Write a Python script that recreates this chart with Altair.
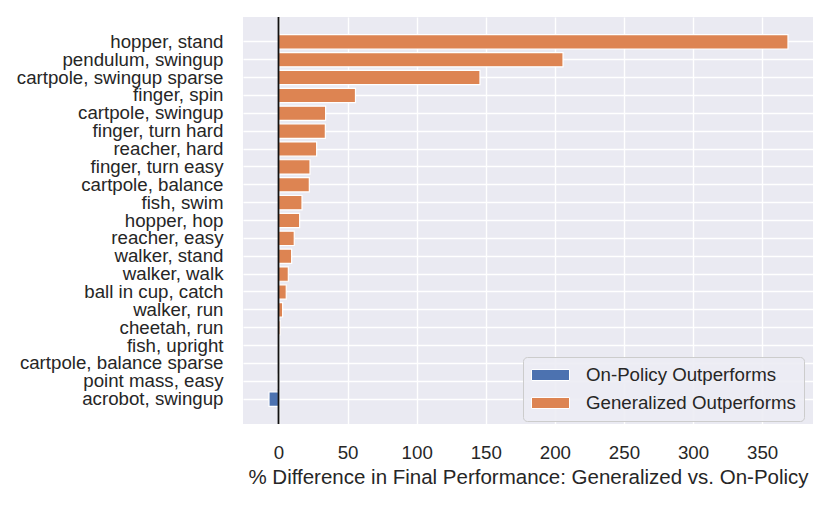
import altair as alt
import pandas as pd

tasks = [
    "hopper, stand", "pendulum, swingup", "cartpole, swingup sparse", "finger, spin",
    "cartpole, swingup", "finger, turn hard", "reacher, hard", "finger, turn easy",
    "cartpole, balance", "fish, swim", "hopper, hop", "reacher, easy",
    "walker, stand", "walker, walk", "ball in cup, catch", "walker, run",
    "cheetah, run", "fish, upright", "cartpole, balance sparse", "point mass, easy",
    "acrobot, swingup",
]
diffs = [
    368.7, 205.9, 145.8, 55.7,
    34.1, 33.9, 27.6, 22.8,
    22.3, 17.0, 15.3, 11.4,
    9.5, 7.1, 5.6, 3.0,
    1.2, 0.3, 0.0, -0.6,
    -6.9,
]
groups = ["On-Policy Outperforms", "Generalized Outperforms"]
colors = ["#4C72B0", "#DD8452"]
x_ticks = [0, 50, 100, 150, 200, 250, 300, 350]

n = min(len(tasks), len(diffs))
df = pd.DataFrame({"task": tasks[:n], "diff": diffs[:n]})
df["group"] = [groups[0] if v < 0 else groups[1] for v in df["diff"]]

FONT = "Liberation Sans"
TXT = "#262626"
FS = 18.7

bars = alt.Chart(df).mark_bar(stroke="white", strokeWidth=1.2).encode(
    y=alt.Y(
        "task:N",
        sort=tasks[:n],
        scale=alt.Scale(paddingInner=0.2, paddingOuter=0.99),
        axis=alt.Axis(
            title=None, ticks=False, domain=False, labelPadding=20,
            labelFontSize=FS, labelColor=TXT, labelFont=FONT, labelLimit=400,
            grid=True, gridColor="white", gridWidth=1.4, bandPosition=0.5,
        ),
    ),
    x=alt.X(
        "diff:Q",
        scale=alt.Scale(domain=[-25.7, 386.8], nice=False, zero=False),
        axis=alt.Axis(
            values=x_ticks, title="% Difference in Final Performance: Generalized vs. On-Policy",
            ticks=False, domain=False, labelPadding=19, labelFontSize=FS,
            labelColor=TXT, labelFont=FONT, titleFont=FONT, titleFontSize=20.5,
            titleFontWeight="normal", titleColor=TXT, titlePadding=6,
            grid=True, gridColor="white", gridWidth=1.4,
        ),
    ),
    color=alt.Color(
        "group:N",
        scale=alt.Scale(domain=groups, range=colors),
        legend=alt.Legend(
            title=None, orient="none", legendX=280, legendY=340,
            symbolType="M-1,-0.58H3V0.58H-1Z", symbolSize=361,
            symbolStrokeColor="white", symbolStrokeWidth=1,
            labelOffset=35, labelFontSize=FS, labelFont=FONT, labelColor=TXT,
            labelLimit=500, labelExpr="datum.label + '    '",
            rowPadding=8, padding=8,
            fillColor="rgba(236,236,244,0.9)", strokeColor="#cccccc",
            cornerRadius=4,
        ),
    ),
)

zero = alt.Chart(pd.DataFrame({"x": [0]})).mark_rule(color="#111111", strokeWidth=1.8).encode(
    x="x:Q"
)

chart = (
    alt.layer(bars, zero)
    .properties(width=570, height=407, padding={"left": 8, "top": 8, "right": 5, "bottom": 5},
                background="white")
    .configure_view(fill="#EAEAF2", strokeWidth=0)
)

chart.save("out.html", embed_options={"renderer": "svg", "actions": False})
